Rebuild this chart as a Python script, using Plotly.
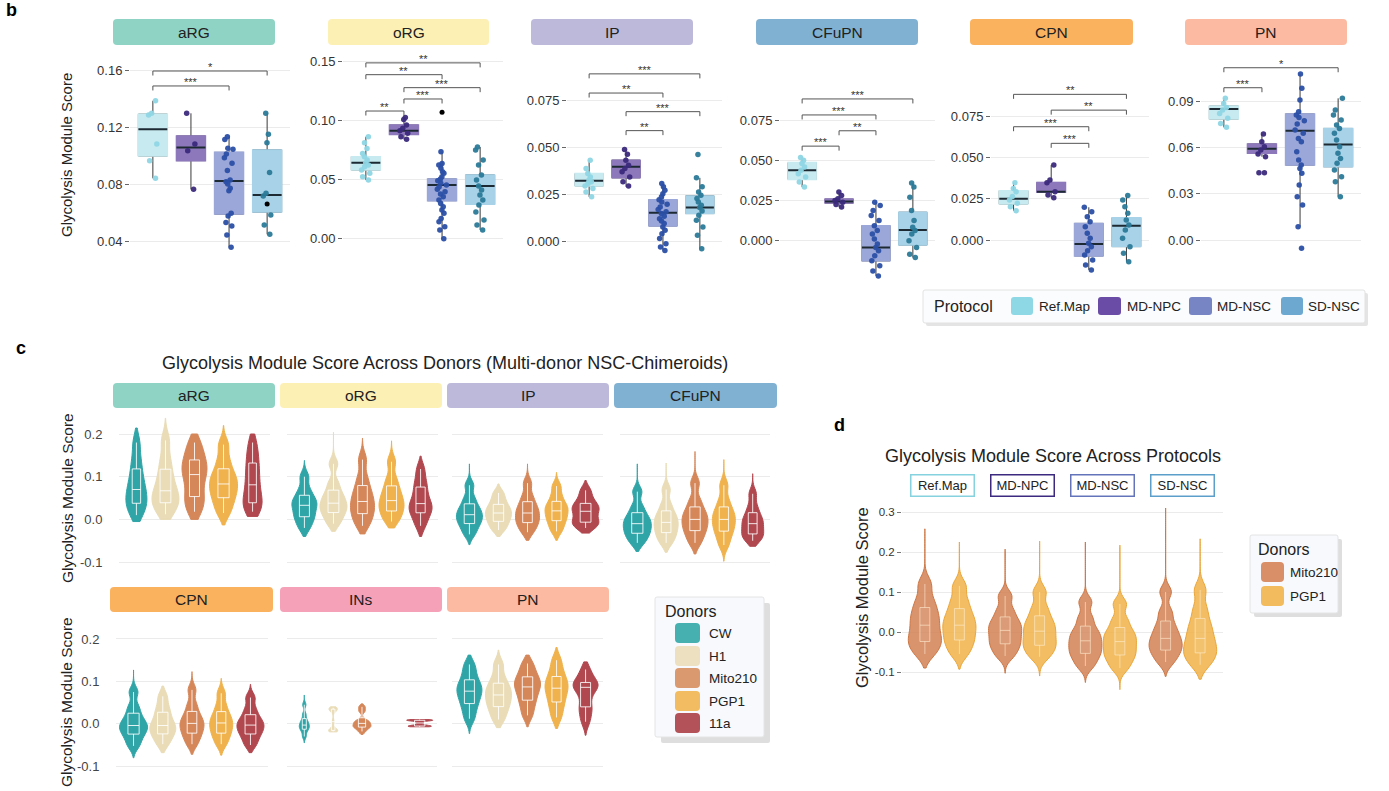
import numpy as np
import plotly.graph_objects as go

W, H = 1389, 791
FONT = "Liberation Sans, Arial, Helvetica, sans-serif"

# ======================= DATA =======================
PROTOCOLS = ["Ref.Map", "MD-NPC", "MD-NSC", "SD-NSC"]
B_CELLTYPES = ["aRG", "oRG", "IP", "CFuPN", "CPN", "PN"]

# box statistics per cell type (rows) and protocol (columns)
B_Q1 = [
    [0.0996, 0.0964, 0.0589, 0.0603],
    [0.0582, 0.0884, 0.0322, 0.0292],
    [0.0293, 0.0336, 0.0080, 0.0146],
    [0.0383, 0.0235, -0.0126, -0.0027],
    [0.0219, 0.0290, -0.0097, -0.0040],
    [0.0787, 0.0564, 0.0488, 0.0477],
]
B_MED = [
    [0.1184, 0.1057, 0.0821, 0.0723],
    [0.0644, 0.0915, 0.0455, 0.0447],
    [0.0320, 0.0395, 0.0150, 0.0178],
    [0.0440, 0.0245, -0.0042, 0.0067],
    [0.0251, 0.0294, -0.0024, 0.0087],
    [0.0852, 0.0594, 0.0711, 0.0622],
]
B_Q3 = [
    [0.1290, 0.1137, 0.1022, 0.1039],
    [0.0695, 0.0963, 0.0506, 0.0540],
    [0.0359, 0.0430, 0.0220, 0.0240],
    [0.0488, 0.0260, 0.0094, 0.0178],
    [0.0300, 0.0350, 0.0101, 0.0136],
    [0.0872, 0.0625, 0.0820, 0.0726],
]
B_LO = [
    [0.0840, 0.0763, 0.0356, 0.0447],
    [0.0497, 0.0842, 0.0000, 0.0074],
    [0.0235, 0.0288, -0.0050, -0.0041],
    [0.0335, 0.0210, -0.0220, -0.0105],
    [0.0178, 0.0257, -0.0182, -0.0132],
    [0.0733, 0.0542, 0.0087, 0.0282],
]
B_HI = [
    [0.1384, 0.1296, 0.1132, 0.1296],
    [0.0864, 0.1028, 0.0737, 0.0777],
    [0.0430, 0.0487, 0.0306, 0.0336],
    [0.0520, 0.0304, 0.0241, 0.0360],
    [0.0349, 0.0456, 0.0199, 0.0270],
    [0.0922, 0.0690, 0.1080, 0.0922],
]
# individual sample scores (jittered dots)
B_PTS = [
    [  # aRG
        [0.1384, 0.1296, 0.1284, 0.1080, 0.0963, 0.0840],
        [0.1296, 0.1081, 0.1034, 0.0763],
        [0.1132, 0.1113, 0.1050, 0.1043, 0.1011, 0.0985, 0.0945, 0.0894, 0.0828, 0.0816,
         0.0800, 0.0770, 0.0753, 0.0594, 0.0575, 0.0529, 0.0505, 0.0442, 0.0356],
        [0.1296, 0.1149, 0.1090, 0.0880, 0.0735, 0.0716, 0.0583, 0.0512, 0.0447],
    ],
    [  # oRG
        [0.0864, 0.0814, 0.0765, 0.0723, 0.0695, 0.0667, 0.0644, 0.0624, 0.0610, 0.0582,
         0.0554, 0.0525, 0.0497],
        [0.1028, 0.1011, 0.0963, 0.0935, 0.0915, 0.0893, 0.0864, 0.0842],
        [0.0737, 0.0638, 0.0624, 0.0596, 0.0568, 0.0554, 0.0525, 0.0506, 0.0491, 0.0469,
         0.0455, 0.0441, 0.0418, 0.0398, 0.0378, 0.0356, 0.0328, 0.0299, 0.0271, 0.0243,
         0.0215, 0.0172, 0.0144, 0.0102, 0.0073, 0.0000],
        [0.0777, 0.0752, 0.0667, 0.0625, 0.0540, 0.0497, 0.0447, 0.0413, 0.0370, 0.0328,
         0.0286, 0.0226, 0.0159, 0.0117, 0.0074],
    ],
    [  # IP
        [0.0430, 0.0386, 0.0359, 0.0341, 0.0324, 0.0315, 0.0306, 0.0292, 0.0279, 0.0261, 0.0235],
        [0.0487, 0.0462, 0.0430, 0.0403, 0.0386, 0.0368, 0.0341, 0.0315, 0.0292],
        [0.0306, 0.0288, 0.0270, 0.0252, 0.0235, 0.0220, 0.0208, 0.0195, 0.0181, 0.0167,
         0.0155, 0.0146, 0.0132, 0.0119, 0.0107, 0.0093, 0.0075, 0.0057, 0.0039, 0.0013,
         -0.0014, -0.0032, -0.0050],
        [0.0460, 0.0336, 0.0288, 0.0261, 0.0244, 0.0226, 0.0208, 0.0190, 0.0178, 0.0160,
         0.0137, 0.0110, 0.0075, 0.0030, -0.0041],
    ],
    [  # CFuPN
        [0.0520, 0.0503, 0.0482, 0.0461, 0.0440, 0.0419, 0.0398, 0.0367, 0.0335],
        [0.0304, 0.0283, 0.0262, 0.0251, 0.0241, 0.0226, 0.0210],
        [0.0241, 0.0220, 0.0189, 0.0157, 0.0126, 0.0094, 0.0063, 0.0042, 0.0010, -0.0021,
         -0.0042, -0.0063, -0.0094, -0.0126, -0.0157, -0.0189, -0.0220],
        [0.0360, 0.0335, 0.0272, 0.0189, 0.0126, 0.0084, 0.0063, 0.0042, 0.0000, -0.0042,
         -0.0084, -0.0105],
    ],
    [  # CPN
        [0.0349, 0.0314, 0.0294, 0.0264, 0.0243, 0.0223, 0.0203, 0.0178],
        [0.0456, 0.0365, 0.0349, 0.0294, 0.0274, 0.0257],
        [0.0199, 0.0172, 0.0142, 0.0111, 0.0081, 0.0041, 0.0010, -0.0020, -0.0041, -0.0065,
         -0.0091, -0.0122, -0.0152, -0.0182],
        [0.0270, 0.0244, 0.0203, 0.0162, 0.0122, 0.0091, 0.0061, 0.0010, -0.0041, -0.0081, -0.0132],
    ],
    [  # PN
        [0.0922, 0.0889, 0.0863, 0.0846, 0.0824, 0.0792, 0.0759, 0.0733],
        [0.0690, 0.0640, 0.0607, 0.0585, 0.0559, 0.0542, 0.0437, 0.0437],
        [0.1080, 0.0987, 0.0911, 0.0835, 0.0813, 0.0798, 0.0776, 0.0755, 0.0716, 0.0694,
         0.0661, 0.0640, 0.0575, 0.0520, 0.0488, 0.0466, 0.0434, 0.0358, 0.0282, 0.0228,
         0.0087, -0.0054],
        [0.0922, 0.0846, 0.0813, 0.0781, 0.0748, 0.0726, 0.0694, 0.0651, 0.0607, 0.0564,
         0.0531, 0.0499, 0.0455, 0.0412, 0.0379, 0.0282],
    ],
]
# (cell type index, protocol index, value)
B_OUTLIERS = [(0, 3, 0.0660), (1, 2, 0.1071)]
# significance brackets: (from protocol, to protocol, height, label)
B_BRACKETS = [
    [(0, 2, 0.1488, "***"), (0, 3, 0.1593, "*")],
    [(0, 1, 0.1082, "**"), (1, 2, 0.1184, "***"), (1, 3, 0.1280, "***"),
     (0, 2, 0.1390, "**"), (0, 3, 0.1490, "**")],
    [(0, 3, 0.0889, "***"), (0, 2, 0.0787, "**"), (1, 3, 0.0688, "***"), (1, 2, 0.0587, "**")],
    [(0, 3, 0.0886, "***"), (0, 2, 0.0786, "***"), (1, 2, 0.0687, "**"), (0, 1, 0.0591, "***")],
    [(0, 3, 0.0886, "**"), (1, 3, 0.0790, "**"), (0, 2, 0.0689, "***"), (1, 2, 0.0588, "***")],
    [(0, 3, 0.1121, "*"), (0, 1, 0.0991, "***")],
]

DONORS = ["CW", "H1", "Mito210", "PGP1", "11a"]
C_CELLTYPES = ["aRG", "oRG", "IP", "CFuPN", "CPN", "INs", "PN"]
# violin extent (min / max) per cell type and donor
C_LO = [
    [-0.005, 0.000, 0.000, -0.013, 0.007],
    [-0.040, -0.028, -0.034, -0.020, -0.040],
    [-0.059, -0.040, -0.049, -0.049, -0.032],
    [-0.075, -0.077, -0.081, -0.098, -0.063],
    [-0.080, -0.068, -0.072, -0.074, -0.068],
    [-0.045, -0.019, -0.025, None, -0.007],
    [-0.023, -0.009, -0.007, -0.011, -0.027],
]
C_HI = [
    [0.214, 0.237, 0.200, 0.220, 0.200],
    [0.138, 0.204, 0.190, 0.184, 0.148],
    [0.130, 0.083, 0.130, 0.110, 0.091],
    [0.130, 0.132, 0.159, 0.140, 0.107],
    [0.127, 0.089, 0.123, 0.107, 0.093],
    [0.068, 0.040, 0.047, None, 0.010],
    [0.162, 0.174, 0.162, 0.180, 0.146],
]
# representative scores (octiles) per violin
C_SAMPLES = [
    [
        [0.010, 0.028, 0.041, 0.055, 0.070, 0.088, 0.111, 0.140, 0.180],
        [0.012, 0.030, 0.042, 0.055, 0.067, 0.087, 0.110, 0.140, 0.185],
        [0.018, 0.040, 0.058, 0.085, 0.105, 0.120, 0.134, 0.155, 0.180],
        [0.015, 0.038, 0.055, 0.070, 0.083, 0.097, 0.112, 0.138, 0.175],
        [0.018, 0.030, 0.042, 0.060, 0.081, 0.103, 0.126, 0.150, 0.180],
    ],
    [
        [-0.020, -0.002, 0.009, 0.022, 0.033, 0.042, 0.052, 0.070, 0.100],
        [-0.010, 0.007, 0.019, 0.029, 0.038, 0.050, 0.063, 0.085, 0.130],
        [-0.015, 0.003, 0.017, 0.030, 0.042, 0.057, 0.073, 0.098, 0.140],
        [-0.005, 0.010, 0.023, 0.034, 0.044, 0.058, 0.073, 0.095, 0.135],
        [-0.015, 0.005, 0.019, 0.028, 0.037, 0.052, 0.071, 0.090, 0.118],
    ],
    [
        [-0.035, -0.018, -0.007, 0.003, 0.011, 0.021, 0.032, 0.050, 0.080],
        [-0.025, -0.012, -0.002, 0.007, 0.015, 0.023, 0.032, 0.045, 0.062],
        [-0.030, -0.015, -0.005, 0.005, 0.015, 0.025, 0.037, 0.055, 0.085],
        [-0.028, -0.012, 0.000, 0.010, 0.020, 0.029, 0.038, 0.055, 0.078],
        [-0.020, -0.011, -0.005, 0.007, 0.019, 0.027, 0.034, 0.048, 0.068],
    ],
    [
        [-0.055, -0.040, -0.030, -0.019, -0.010, 0.000, 0.011, 0.030, 0.065],
        [-0.055, -0.040, -0.028, -0.017, -0.007, 0.004, 0.015, 0.035, 0.070],
        [-0.055, -0.036, -0.023, -0.011, 0.000, 0.011, 0.024, 0.045, 0.085],
        [-0.060, -0.038, -0.024, -0.011, 0.000, 0.012, 0.024, 0.045, 0.080],
        [-0.050, -0.040, -0.032, -0.020, -0.010, 0.000, 0.011, 0.030, 0.060],
    ],
    [
        [-0.052, -0.034, -0.021, -0.011, -0.004, 0.006, 0.020, 0.040, 0.075],
        [-0.048, -0.032, -0.021, -0.011, -0.004, 0.008, 0.023, 0.040, 0.065],
        [-0.048, -0.031, -0.019, -0.008, 0.001, 0.011, 0.024, 0.045, 0.080],
        [-0.048, -0.031, -0.019, -0.008, 0.002, 0.012, 0.024, 0.043, 0.072],
        [-0.050, -0.033, -0.021, -0.011, -0.003, 0.006, 0.017, 0.035, 0.062],
    ],
    [
        [-0.030, -0.018, -0.011, -0.007, -0.003, 0.003, 0.009, 0.022, 0.045],
        [-0.018, -0.017, -0.015, -0.013, 0.005, 0.030, 0.034, 0.036, 0.038],
        [-0.018, -0.010, -0.007, -0.004, 0.001, 0.004, 0.009, 0.030, 0.040],
        None,
        [-0.007, -0.006, -0.005, -0.003, 0.002, 0.007, 0.008, 0.009, 0.010],
    ],
    [
        [0.012, 0.035, 0.052, 0.066, 0.077, 0.088, 0.099, 0.118, 0.140],
        [0.010, 0.030, 0.044, 0.057, 0.068, 0.080, 0.091, 0.110, 0.140],
        [0.020, 0.043, 0.060, 0.075, 0.087, 0.097, 0.107, 0.122, 0.142],
        [0.015, 0.038, 0.056, 0.071, 0.084, 0.095, 0.107, 0.125, 0.150],
        [0.005, 0.028, 0.044, 0.068, 0.086, 0.090, 0.094, 0.108, 0.128],
    ],
]

D_DONORS = ["Mito210", "PGP1"]
D_LO = [[-0.090, -0.093], [-0.103, -0.110], [-0.126, -0.144], [-0.111, -0.118]]
D_HI = [[0.258, 0.225], [0.207, 0.227], [0.225, 0.217], [0.310, 0.233]]
D_SAMPLES = [
    [[-0.055, -0.035, -0.020, -0.004, 0.017, 0.035, 0.055, 0.080, 0.120],
     [-0.055, -0.032, -0.016, 0.002, 0.017, 0.033, 0.052, 0.078, 0.115]],
    [[-0.060, -0.040, -0.026, -0.011, 0.004, 0.017, 0.032, 0.055, 0.090],
     [-0.062, -0.043, -0.030, -0.014, 0.002, 0.017, 0.034, 0.060, 0.100]],
    [[-0.085, -0.064, -0.050, -0.036, -0.022, -0.008, 0.008, 0.035, 0.075],
     [-0.090, -0.068, -0.054, -0.039, -0.024, -0.010, 0.005, 0.030, 0.070]],
    [[-0.075, -0.055, -0.042, -0.029, -0.016, 0.000, 0.020, 0.050, 0.100],
     [-0.082, -0.062, -0.049, -0.033, -0.016, 0.004, 0.026, 0.058, 0.105]],
]

B_TICKS = [[0.04, 0.08, 0.12, 0.16], [0.00, 0.05, 0.10, 0.15], [0.000, 0.025, 0.050, 0.075],
           [0.000, 0.025, 0.050, 0.075], [0.000, 0.025, 0.050, 0.075], [0.00, 0.03, 0.06, 0.09]]
C_TICKS = [-0.1, 0.0, 0.1, 0.2]
D_TICKS = [-0.1, 0.0, 0.1, 0.2, 0.3]

# ======================= STYLE / LAYOUT =======================
STRIP_COLORS = {"aRG": "#8fd3c5", "oRG": "#fdf0b5", "IP": "#bdb9da", "CFuPN": "#80b1d3",
                "CPN": "#fbb25f", "INs": "#f5a1b8", "PN": "#fbbaa1"}
PROTO_BOX = ["#c7eaf0", "#8d78bc", "#9ba7d9", "#a7d2e7"]
PROTO_PT = ["#8fd6e4", "#3b2a7c", "#2b4fa7", "#2a7a99"]
PROTO_LEG = ["#8ed8e6", "#6a4ca6", "#7885c5", "#6ca8d0"]
PROTO_HDR = ["#86d2df", "#3b2a80", "#6474bb", "#5d9fcb"]
DONOR_COLORS = {"CW": "#30a5a8", "H1": "#e9dcb6", "Mito210": "#d5875a", "PGP1": "#efb24c", "11a": "#b1474f"}
DONOR_LEG = {"CW": "#46afb0", "H1": "#ece0c0", "Mito210": "#db996f", "PGP1": "#f1bc62", "11a": "#b4525a"}
D_FILL = {"Mito210": "rgba(210,128,84,0.85)", "PGP1": "rgba(240,178,72,0.85)"}
D_LINE = {"Mito210": "#cd7744", "PGP1": "#eba63a"}
D_LEG = {"Mito210": "#d99068", "PGP1": "#f1bb5e"}
GRID = "#ebebeb"
BW_C, BW_D = 0.6, 0.5   # kernel bandwidth relative to the rule-of-thumb value
BW_OVERRIDE = {("INs", "H1"): 0.3, ("INs", "11a"): 0.35}

B_XDOM = [(130, 290), (343, 503), (567, 722), (780, 935), (991, 1149), (1201, 1361)]
B_YDOM = (52, 280)
B_YRANGE = [(0.01263, 0.17263), (-0.03501, 0.15822), (-0.02074, 0.10053),
            (-0.02456, 0.11794), (-0.02433, 0.11436), (-0.02600, 0.12234)]
B_TFMT = [".2f", ".2f", ".3f", ".3f", ".3f", ".2f"]
B_STRIPS = [(113, 275), (328, 489), (531, 693), (756, 918), (970, 1133), (1185, 1347)]

C_XDOM = [(119, 270), (287, 438), (452, 603), (620, 770), (116, 268), (287, 437), (452, 603)]
C_ROW = [0, 0, 0, 0, 1, 1, 1]
C_YDOM = [(412, 572), (618, 775)]
C_YRANGE = [(-0.12318, 0.25152), (-0.1207, 0.2495)]
C_STRIPS = [(113, 275), (280, 442), (447, 609), (614, 777), (110, 273), (280, 442), (447, 609)]
C_STRIP_Y = [(383, 408), (587, 612)]
C_WIDTH_PX = [[21, 27, 25, 28, 19], [25, 27, 24, 25, 23], [26, 26, 24, 23, 27],
              [28, 24, 26, 23, 22], [28, 26, 24, 23, 27], [10, 9, 18, None, 26],
              [25, 26, 26, 23, 25]]

D_XDOM = (902, 1223)
D_YDOM = (505, 695)
D_YRANGE = (-0.1575, 0.3175)


def fx(px):
    return px / W


def fy(py):
    return 1 - py / H


def rule_bw(s, factor):
    a = np.asarray(s, dtype=float)
    iqr = np.percentile(a, 75) - np.percentile(a, 25)
    sd = a.std(ddof=1)
    base = 1.059 * min(sd, iqr / 1.349 if iqr > 0 else sd) * len(a) ** -0.2
    return float(base * factor)


def rrect(x0, y0, x1, y1, r=4, fill="white", line=None, lw=0):
    X, Y = fx, fy
    p = (f"M {X(x0 + r)},{Y(y0)} L {X(x1 - r)},{Y(y0)} Q {X(x1)},{Y(y0)} {X(x1)},{Y(y0 + r)} "
         f"L {X(x1)},{Y(y1 - r)} Q {X(x1)},{Y(y1)} {X(x1 - r)},{Y(y1)} L {X(x0 + r)},{Y(y1)} "
         f"Q {X(x0)},{Y(y1)} {X(x0)},{Y(y1 - r)} L {X(x0)},{Y(y0 + r)} Q {X(x0)},{Y(y0)} {X(x0 + r)},{Y(y0)} Z")
    return dict(type="path", xref="paper", yref="paper", path=p, fillcolor=fill,
                line=dict(color=line or fill, width=lw), layer="below")


def text(x, y, s, size=13, color="#222", xanchor="center", yanchor="middle", bold=False, angle=0):
    return dict(x=fx(x), y=fy(y), xref="paper", yref="paper", text=f"<b>{s}</b>" if bold else s,
                showarrow=False, xanchor=xanchor, yanchor=yanchor, textangle=angle,
                font=dict(size=size, color=color, family=FONT))


def refs(k):
    return ("x" if k == 1 else f"x{k}"), ("y" if k == 1 else f"y{k}")


fig = go.Figure()
layout = dict(width=W, height=H, margin=dict(l=0, r=0, t=0, b=0), paper_bgcolor="white",
              plot_bgcolor="white", showlegend=False, font=dict(family=FONT, color="#222"),
              boxmode="overlay", violinmode="group", violingap=0.14, violingroupgap=0.04)
shapes, annos = [], []

# ------------------------- panel b -------------------------
for f, ct in enumerate(B_CELLTYPES):
    k = f + 1
    xr, yr = refs(k)
    sx = "" if k == 1 else str(k)
    layout["xaxis" + sx] = dict(domain=[fx(B_XDOM[f][0]), fx(B_XDOM[f][1])], range=[-0.6, 3.6],
                               visible=False, anchor=yr, fixedrange=True)
    layout["yaxis" + sx] = dict(domain=[fy(B_YDOM[1]), fy(B_YDOM[0])], range=list(B_YRANGE[f]),
                               anchor=xr, tickvals=B_TICKS[f],
                               ticktext=[format(v, B_TFMT[f]) for v in B_TICKS[f]],
                               showgrid=True, gridcolor=GRID, gridwidth=1, zeroline=False,
                               showline=False, ticks="outside", ticklen=4, tickcolor="#666",
                               tickwidth=1, tickfont=dict(size=13, color="#333"), fixedrange=True)
    idx = list(range(4))
    # whiskers
    fig.add_trace(go.Box(x=idx, q1=B_Q1[f], median=B_MED[f], q3=B_Q3[f], lowerfence=B_LO[f],
                         upperfence=B_HI[f], width=0.76, whiskerwidth=0, boxpoints=False,
                         fillcolor="rgba(0,0,0,0)", line=dict(color="#3a3a3a", width=1),
                         xaxis=xr, yaxis=yr, hoverinfo="skip"))
    # filled boxes
    for p in idx:
        fig.add_trace(go.Box(x=[p], q1=[B_Q1[f][p]], median=[B_MED[f][p]], q3=[B_Q3[f][p]],
                             lowerfence=[B_Q1[f][p]], upperfence=[B_Q3[f][p]], width=0.76,
                             whiskerwidth=0, boxpoints=False, fillcolor=PROTO_BOX[p],
                             line=dict(color=PROTO_BOX[p], width=1.5), xaxis=xr, yaxis=yr,
                             hoverinfo="skip"))
    # medians
    fig.add_trace(go.Box(x=idx, q1=B_MED[f], median=B_MED[f], q3=B_MED[f], lowerfence=B_MED[f],
                         upperfence=B_MED[f], width=0.76, whiskerwidth=0, boxpoints=False,
                         fillcolor="rgba(0,0,0,0)", line=dict(color="#1e2a33", width=2),
                         xaxis=xr, yaxis=yr, hoverinfo="skip"))
    # jittered points
    for p in idx:
        pts = B_PTS[f][p]
        fig.add_trace(go.Box(x=[p] * len(pts), y=pts, boxpoints="all", jitter=0.35, pointpos=0,
                             width=0.76, fillcolor="rgba(0,0,0,0)",
                             line=dict(color="rgba(0,0,0,0)", width=0), whiskerwidth=0,
                             marker=dict(color=PROTO_PT[p], size=5.5, opacity=0.95),
                             xaxis=xr, yaxis=yr, hoverinfo="skip"))
    # outliers
    ox = [o[1] for o in B_OUTLIERS if o[0] == f]
    oy = [o[2] for o in B_OUTLIERS if o[0] == f]
    if ox:
        fig.add_trace(go.Scatter(x=ox, y=oy, mode="markers", marker=dict(color="black", size=5),
                                 xaxis=xr, yaxis=yr, hoverinfo="skip"))
    # brackets
    per_px = (B_YRANGE[f][1] - B_YRANGE[f][0]) / (B_YDOM[1] - B_YDOM[0])
    tip = 4.5 * per_px
    for (i, j, yv, lab) in B_BRACKETS[f]:
        fig.add_trace(go.Scatter(x=[i, i, j, j], y=[yv - tip, yv, yv, yv - tip], mode="lines",
                                 line=dict(color="#555", width=1), xaxis=xr, yaxis=yr,
                                 hoverinfo="skip"))
        annos.append(dict(x=(i + j) / 2, y=yv, xref=xr, yref=yr, text=lab, showarrow=False,
                          yanchor="bottom", yshift=-4, font=dict(size=11, color="#333", family=FONT)))
    # strip
    shapes.append(rrect(B_STRIPS[f][0], 19, B_STRIPS[f][1], 45, fill=STRIP_COLORS[ct]))
    annos.append(text((B_STRIPS[f][0] + B_STRIPS[f][1]) / 2, 32, ct, size=15.5, color="#222"))

annos.append(text(4, 10, "b", size=18, color="#000", xanchor="left", bold=True))
annos.append(text(66, 155, "Glycolysis Module Score", size=15, angle=-90))

# protocol legend
shapes.append(rrect(926, 293, 1368, 326, r=2, fill="#e4e4e4"))
shapes.append(rrect(923, 290, 1365, 323, r=2, fill="#fbfcfd", line="#e2e2e2", lw=1))
annos.append(text(932, 306, "Protocol", size=16, xanchor="left"))
LEG_B_X = [(1011, 1033, 1037), (1098, 1121, 1125), (1189, 1212, 1215), (1281, 1303, 1306)]
for p, name in enumerate(PROTOCOLS):
    a, b_, t = LEG_B_X[p]
    shapes.append(rrect(a, 297, b_, 315, r=3, fill=PROTO_LEG[p]))
    annos.append(text(t, 306, name, size=13.5, xanchor="left", color="#222"))

# ------------------------- panel c -------------------------
for f, ct in enumerate(C_CELLTYPES):
    k = 7 + f
    xr, yr = refs(k)
    sx = str(k)
    row = C_ROW[f]
    x0, x1 = C_XDOM[f]
    unit = (x1 - x0) / 5.2
    layout["xaxis" + sx] = dict(domain=[fx(x0), fx(x1)], range=[-0.6, 4.6], visible=False,
                               anchor=yr, fixedrange=True)
    first = f in (0, 4)
    layout["yaxis" + sx] = dict(domain=[fy(C_YDOM[row][1]), fy(C_YDOM[row][0])],
                               range=list(C_YRANGE[row]), anchor=xr, tickvals=C_TICKS,
                               ticktext=[format(v, ".1f") for v in C_TICKS],
                               showticklabels=first, showgrid=True, gridcolor=GRID, zeroline=False,
                               showline=False, ticks="outside", ticklen=13,
                               tickcolor="rgba(0,0,0,0)", tickfont=dict(size=13, color="#444"),
                               fixedrange=True)
    for d, donor in enumerate(DONORS):
        s = C_SAMPLES[f][d]
        if s is None:
            continue
        bwf = BW_OVERRIDE.get((ct, donor), BW_C)
        fig.add_trace(go.Violin(x=[d] * len(s), y=s, xaxis=xr, yaxis=yr,
                                width=C_WIDTH_PX[f][d] / unit, scalemode="width",
                                bandwidth=rule_bw(s, bwf),
                                spanmode="manual", span=[C_LO[f][d], C_HI[f][d]],
                                fillcolor=DONOR_COLORS[donor],
                                line=dict(color=DONOR_COLORS[donor], width=1), opacity=1,
                                points=False, meanline=dict(visible=False),
                                box=dict(visible=True, width=0.4, fillcolor="rgba(0,0,0,0)",
                                         line=dict(color="rgba(255,255,255,0.85)", width=1)),
                                hoverinfo="skip"))
    sy0, sy1 = C_STRIP_Y[row]
    shapes.append(rrect(C_STRIPS[f][0], sy0, C_STRIPS[f][1], sy1, fill=STRIP_COLORS[ct]))
    annos.append(text((C_STRIPS[f][0] + C_STRIPS[f][1]) / 2, (sy0 + sy1) / 2, ct, size=15.5))

annos.append(text(14, 348, "c", size=18, color="#000", xanchor="left", bold=True))
annos.append(text(445, 363, "Glycolysis Module Score Across Donors (Multi-donor NSC-Chimeroids)",
                  size=18, color="#222"))
annos.append(text(67, 498, "Glycolysis Module Score", size=15.5, angle=-90))
annos.append(text(66, 702, "Glycolysis Module Score", size=15.5, angle=-90))

# donors legend (c)
shapes.append(rrect(661, 603, 770, 743, r=2, fill="#dedede"))
shapes.append(rrect(655, 597, 764, 737, r=2, fill="#f7f9fc", line="#e4e4e4", lw=1))
annos.append(text(663, 611, "Donors", size=16, xanchor="left"))
LEG_C_Y = [633, 656, 678, 701, 723]
for d, donor in enumerate(DONORS):
    yc = LEG_C_Y[d]
    shapes.append(rrect(675, yc - 10, 700, yc + 10, r=4, fill=DONOR_LEG[donor]))
    annos.append(text(707, yc, donor, size=13.5, xanchor="left"))

# ------------------------- panel d -------------------------
k = 14
xr, yr = refs(k)
layout["xaxis14"] = dict(domain=[fx(D_XDOM[0]), fx(D_XDOM[1])], type="category",
                         categoryorder="array", categoryarray=PROTOCOLS, range=[-0.5, 3.5],
                         visible=False, anchor=yr, fixedrange=True)
layout["yaxis14"] = dict(domain=[fy(D_YDOM[1]), fy(D_YDOM[0])], range=list(D_YRANGE), anchor=xr,
                         tickvals=D_TICKS, ticktext=[format(v, ".1f") for v in D_TICKS],
                         showgrid=True, gridcolor=GRID, zeroline=False, showline=False,
                         ticks="outside", ticklen=4, tickcolor="#777",
                         tickfont=dict(size=11.5, color="#333"), fixedrange=True)
for p, proto in enumerate(PROTOCOLS):
    for j, donor in enumerate(D_DONORS):
        s = D_SAMPLES[p][j]
        fig.add_trace(go.Violin(x=[proto] * len(s), y=s, xaxis=xr, yaxis=yr,
                                offsetgroup=donor, alignmentgroup="d", scalemode="width",
                                bandwidth=rule_bw(s, BW_D),
                                spanmode="manual", span=[D_LO[p][j], D_HI[p][j]],
                                fillcolor=D_FILL[donor], line=dict(color=D_LINE[donor], width=1),
                                points=False, meanline=dict(visible=False),
                                box=dict(visible=True, width=0.3, fillcolor="rgba(255,255,255,0.08)",
                                         line=dict(color="rgba(255,238,210,0.6)", width=1)),
                                hoverinfo="skip"))
    annos.append(dict(x=proto, y=fy(485.5), xref=xr, yref="paper", text=proto, showarrow=False,
                      width=58, height=16, borderpad=2, borderwidth=1.5, bordercolor=PROTO_HDR[p],
                      bgcolor="white", font=dict(size=13, color="#222", family=FONT)))

annos.append(text(832, 425, "d", size=18, color="#000", xanchor="left", bold=True))
annos.append(text(1053, 456, "Glycolysis Module Score Across Protocols", size=18))
annos.append(text(862, 597, "Glycolysis Module Score", size=16.5, angle=-90))

# donors legend (d)
shapes.append(rrect(1254, 539, 1342, 617, r=2, fill="#dedede"))
shapes.append(rrect(1250, 535, 1338, 613, r=2, fill="#f7f9fc", line="#e4e4e4", lw=1))
annos.append(text(1256, 549, "Donors", size=16, xanchor="left"))
LEG_D_Y = [572, 596]
for j, donor in enumerate(D_DONORS):
    yc = LEG_D_Y[j]
    shapes.append(rrect(1261, yc - 10, 1284, yc + 10, r=4, fill=D_LEG[donor]))
    annos.append(text(1288, yc, donor, size=13.5, xanchor="left"))

layout["shapes"] = shapes
layout["annotations"] = annos
fig.update_layout(**layout)
fig.write_html("out.html", config={"displayModeBar": False},
               post_script="document.body.style.margin='0';document.body.style.padding='0';")
